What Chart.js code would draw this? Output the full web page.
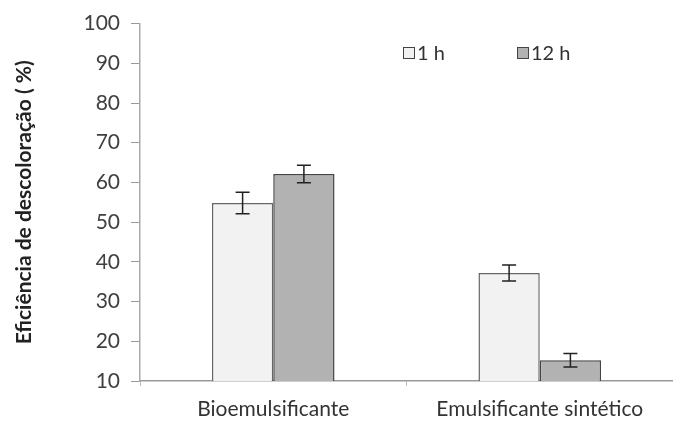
<!DOCTYPE html>
<html>
<head>
<meta charset="utf-8">
<script src="https://cdn.jsdelivr.net/npm/chart.js@4/dist/chart.umd.min.js"></script>
<style>
  html, body { margin: 0; padding: 0; background: #fff; }
  #wrap { width: 673px; height: 423px; }
</style>
</head>
<body>
<div id="wrap"><canvas id="myChart"></canvas></div>
<script>
var categories = ["Bioemulsificante", "Emulsificante sintético"];
var series1h = [54.8, 37.2];
var series12h = [62.1, 15.2];
var err1h = [2.7, 2.0];
var err12h = [2.2, 1.7];
var seriesLabels = ["1 h", "12 h"];
var yTicks = [10, 20, 30, 40, 50, 60, 70, 80, 90, 100];

var errorBars = {
  id: 'errorBars',
  afterDatasetsDraw: function (chart) {
    var ctx = chart.ctx;
    var y = chart.scales.y;
    ctx.save();
    ctx.strokeStyle = '#222';
    ctx.lineWidth = 1.5;
    chart.data.datasets.forEach(function (ds, i) {
      var meta = chart.getDatasetMeta(i);
      meta.data.forEach(function (bar, j) {
        var v = ds.data[j], e = ds.errors[j];
        var top = y.getPixelForValue(v + e), bot = y.getPixelForValue(v - e);
        var x = bar.x;
        ctx.beginPath();
        ctx.moveTo(x, top); ctx.lineTo(x, bot);
        ctx.moveTo(x - 7, top); ctx.lineTo(x + 7, top);
        ctx.moveTo(x - 7, bot); ctx.lineTo(x + 7, bot);
        ctx.stroke();
      });
    });
    ctx.restore();
  }
};

var innerLegend = {
  id: 'innerLegend',
  afterDraw: function (chart) {
    var ctx = chart.ctx;
    var xs = [403, 517];
    var yc = 53;
    ctx.save();
    ctx.font = '20px Lato';
    ctx.textBaseline = 'middle';
    chart.data.datasets.forEach(function (ds, i) {
      ctx.fillStyle = ds.backgroundColor;
      ctx.fillRect(xs[i], yc - 6, 12, 12);
      ctx.strokeStyle = '#444';
      ctx.lineWidth = 1;
      ctx.strokeRect(xs[i] + 0.5, yc - 5.5, 11, 11);
      ctx.fillStyle = '#333';
      ctx.fillText(ds.label, xs[i] + 14, yc + 1);
    });
    ctx.restore();
  }
};

var ctx = document.getElementById("myChart");
var chart_params = {
  type: 'bar',
  data: {
    labels: categories,
    datasets: [{
      label: seriesLabels[0],
      data: series1h,
      errors: err1h,
      backgroundColor: "#f2f2f2",
      borderColor: "#666",
      borderWidth: 1.5
    }, {
      label: seriesLabels[1],
      data: series12h,
      errors: err12h,
      backgroundColor: "#b2b2b2",
      borderColor: "#444",
      borderWidth: 1.5
    }]
  },
  options: {
    responsive: true,
    maintainAspectRatio: false,
    animation: false,
    layout: { padding: { top: 14, right: 0, left: 12, bottom: 0 } },
    plugins: {
      legend: { display: false },
      tooltip: { enabled: false }
    },
    datasets: {
      bar: { barPercentage: 1, categoryPercentage: 0.46 }
    },
    scales: {
      x: {
        grid: { offset: true, drawOnChartArea: false, color: '#bbb', tickLength: 5 },
        border: { color: '#999', width: 1.5 },
        ticks: { color: '#333', font: { family: 'Lato', size: 21 }, padding: 11 },
        afterFit: function (scale) { scale.height = 42; }
      },
      y: {
        min: 10,
        max: 100,
        afterBuildTicks: function (scale) {
          scale.ticks = yTicks.map(function (v) { return { value: v }; });
        },
        grid: { drawOnChartArea: false, color: '#999', tickLength: 9 },
        border: { color: '#aaa', width: 1.5 },
        ticks: { color: '#404040', font: { family: 'Lato', size: 21 }, padding: 11 },
        title: {
          display: true,
          text: 'Eficiência de descoloração ( %)',
          color: '#222',
          font: { family: 'Lato', size: 21, weight: 'bold' },
          padding: { top: 0, bottom: 0 }
        },
        afterFit: function (scale) { scale.width = 128; }
      }
    }
  },
  plugins: [errorBars, innerLegend]
};
var myChart = new Chart(ctx, chart_params);
</script>
</body>
</html>
